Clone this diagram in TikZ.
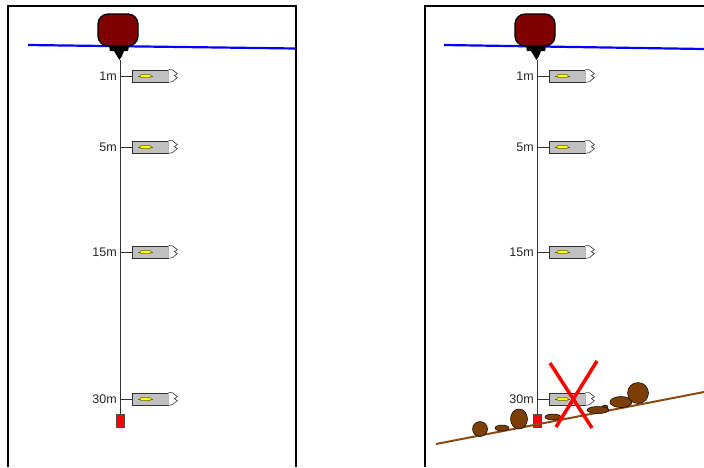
\documentclass[tikz,border=0pt]{standalone}
\usepackage{fontspec}
\setmainfont{Liberation Sans}
\usetikzlibrary{positioning}
\definecolor{buoyred}{RGB}{128,0,0}
\definecolor{sensorgray}{RGB}{192,192,192}
\definecolor{cellyellow}{RGB}{255,255,0}
\definecolor{cellrim}{RGB}{100,100,0}
\definecolor{seabed}{RGB}{140,75,20}
\definecolor{rockbrown}{RGB}{125,62,5}
\definecolor{surfaceblue}{RGB}{0,0,255}

\begin{document}
\begin{tikzpicture}[x=1pt, y=-1pt,
    frame/.style={line width=2pt, black},
    surface/.style={line width=2.2pt, surfaceblue},
    buoy/.style={
        rectangle,
        rounded corners=10pt,
        draw=black,
        line width=1.3pt,
        fill=buoyred,
        minimum width=40pt,
        minimum height=32pt,
        inner sep=0pt
    },
    tether/.style={line width=0.8pt, black!80},
    sensor/.style={
        rectangle,
        draw=black!80,
        line width=0.7pt,
        fill=sensorgray,
        minimum width=36pt,
        minimum height=12pt,
        inner sep=0pt
    },
    nose/.style={draw=black!80, line width=0.6pt, fill=white},
    weight/.style={
        rectangle,
        draw=black!70,
        line width=0.6pt,
        fill=red,
        minimum width=8pt,
        minimum height=13pt,
        inner sep=0pt
    },
    depth/.style={anchor=east, inner sep=1pt, font=\fontsize{12.5}{14}\selectfont, text=black!85},
    rock/.style={draw=black, line width=0.5pt, fill=rockbrown},
    cross/.style={line width=3.5pt, red}
]
\useasboundingbox (0,0) rectangle (704,467);

% Panel frames
\draw[frame] (8,467) -- (8,6) -- (296,6) -- (296,467);
\draw[frame] (425,467) -- (425,6) -- (704,6);

% Sea surface
\draw[surface] (28,45) -- (296,48.5);
\draw[surface] (444,45) -- (704,49);

% Mooring: buoy, line, sensors and anchor weight
\foreach \p/\dx in {a/0, b/417} {
\begin{scope}[xshift=\dx]
    \node[buoy] (\p-buoy) at (118,30) {};
    \fill (109,46) -- (129,46) -- (128,51) -- (124,51) -- (122,56)
          -- (119.5,60) -- (117,56) -- (114,51) -- (110,51) -- cycle;
    \coordinate (\p-top) at (120,60);
    \node[weight] (\p-weight) at (120,420.5) {};
    \draw[tether] (\p-top) -- (\p-weight.north);

    \foreach \d/\y in {1/76, 5/147, 15/252, 30/399} {
        \coordinate (\p-j\d) at (120,\y);
        \node[sensor] (\p-s\d) at (150,\y) {};
        \draw[tether] (\p-j\d) -- (\p-s\d.west);
        \node[depth] at (118,\y) {\d m};
        % pencil tip
        \draw[nose] (\p-s\d.north east) -- ++(4,0) -- ++(5,4) -- ++(-3,2)
              -- ++(3,2) -- ++(-5,4) -- (\p-s\d.south east);
        % cell
        \draw[cellrim, line width=0.6pt] ([xshift=-12pt]\p-s\d.center) -- ++(15,0);
        \draw[cellrim, line width=0.5pt, fill=cellyellow, rounded corners=1pt]
              ([xshift=-10pt, yshift=1.5pt]\p-s\d.center) rectangle ++(11,3);
    }
\end{scope}
}

% Sloping seabed with rocks
\draw[line width=2pt, seabed] (436,444) -- (704,392);
\draw[rock] (480,429) circle[radius=7.5];
\draw[rock] (502,428) ellipse[x radius=7, y radius=3];
\draw[rock] (519,419) ellipse[x radius=8.5, y radius=10];
\draw[rock] (553,417) ellipse[x radius=8, y radius=3];
\draw[rock] (605,407) ellipse[x radius=3, y radius=2];
\draw[rock] (598,410) ellipse[x radius=11, y radius=3.5];
\draw[rock] (621,402) ellipse[x radius=11, y radius=5.5];
\draw[rock] (638,393) circle[radius=10.5];

% Lost sensor
\draw[cross] (550,363) -- (592,428);
\draw[cross] (597,361) -- (556,427);

\end{tikzpicture}
\end{document}
